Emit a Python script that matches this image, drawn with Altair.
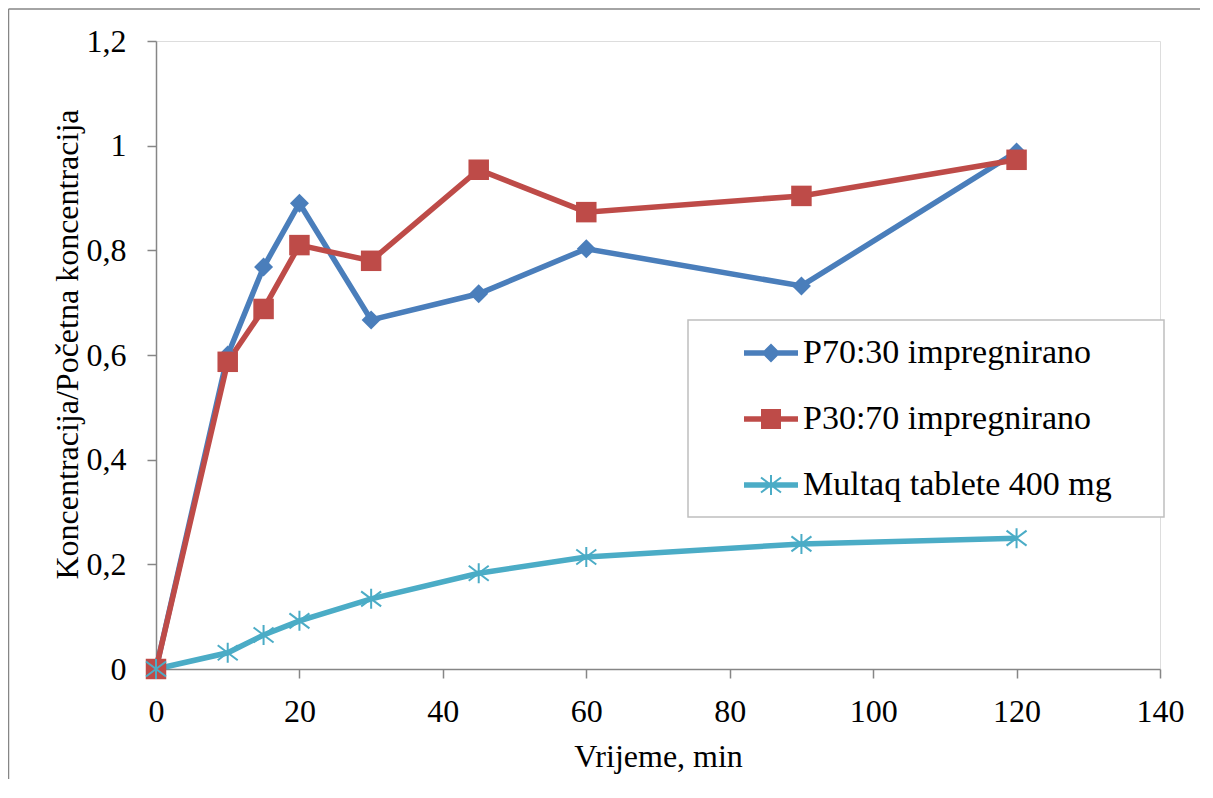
import altair as alt
import pandas as pd

times = [0, 10, 15, 20, 30, 45, 60, 90, 120]
p7030 = [0, 0.600, 0.768, 0.890, 0.667, 0.717, 0.803, 0.732, 0.988]
p3070 = [0, 0.587, 0.688, 0.810, 0.780, 0.954, 0.873, 0.904, 0.973]
multaq = [0, 0.031, 0.065, 0.092, 0.134, 0.183, 0.214, 0.239, 0.250]

series_names = ["P70:30 impregnirano", "P30:70 impregnirano", "Multaq tablete 400 mg"]
colors = ["#4A7EBB", "#BE4B48", "#4BACC6"]
x_ticks = [0, 20, 40, 60, 80, 100, 120, 140]
y_ticks = [0, 0.2, 0.4, 0.6, 0.8, 1.0, 1.2]

rows = []
for name, vals in zip(series_names, [p7030, p3070, multaq]):
    for t, v in zip(times, vals):
        rows.append({"series": name, "t": t, "v": v})
df = pd.DataFrame(rows)

FONT = "Liberation Serif"
FS = 32
GRAY = "#868686"

ASTERISK = "M0,-1L0,1M-1,-0.75L1,0.75M-1,0.75L1,-0.75"

# legend symbols: line segment + marker, all filled sub-paths (same winding)
LEG_D = "M-1,-0.1H1V0.1H-1Z M-0.35,0L0,-0.35L0.35,0L0,0.35Z"
LEG_S = "M-1,-0.1H1V0.1H-1Z M-0.37,-0.37H0.37V0.37H-0.37Z"
LEG_A = ("M-1,-0.1H1V0.1H-1Z "
         "M-0.037,-0.37H0.037V0.37H-0.037Z "
         "M-0.392,-0.25L-0.348,-0.31L0.392,0.25L0.348,0.31Z "
         "M-0.392,0.25L0.348,-0.31L0.392,-0.25L-0.348,0.31Z")

legend = alt.Legend(
    title=None,
    orient="none",
    legendX=588,
    legendY=285,
    padding=0,
    symbolSize=2916,
    symbolStrokeWidth=0,
    symbolOpacity=1,
    labelFont=FONT,
    labelFontSize=34,
    labelColor="black",
    labelOffset=5,
    labelLimit=0,
    rowPadding=22,
)

color_scale = alt.Scale(domain=series_names, range=colors)
legend_shape_scale = alt.Scale(domain=series_names, range=[LEG_D, LEG_S, LEG_A])

x_enc = alt.X(
    "t:Q",
    scale=alt.Scale(domain=[0, 140], nice=False),
    axis=alt.Axis(
        values=x_ticks,
        grid=False,
        tickSize=9,
        tickColor=GRAY,
        tickWidth=1.5,
        domainColor=GRAY,
        domainWidth=1.5,
        labelFont=FONT,
        labelFontSize=FS,
        labelColor="black",
        labelPadding=43,
        labelBaseline="alphabetic",
        labelFlush=False,
        labelOverlap=False,
        title="Vrijeme, min",
        titleFont=FONT,
        titleFontSize=FS,
        titleFontWeight="normal",
        titleColor="black",
        titleY=97,
        titleBaseline="alphabetic",
    ),
)
y_enc = alt.Y(
    "v:Q",
    scale=alt.Scale(domain=[0, 1.2], nice=False),
    axis=alt.Axis(
        values=y_ticks,
        grid=False,
        tickSize=9,
        tickColor=GRAY,
        tickWidth=1.5,
        domainColor=GRAY,
        domainWidth=1.5,
        labelFont=FONT,
        labelFontSize=FS,
        labelColor="black",
        labelPadding=21,
        labelFlush=False,
        labelOverlap=False,
        labelExpr="replace(format(datum.value, '.1~f'), '.', ',')",
        title="Koncentracija/Početna koncentracija",
        titleFont=FONT,
        titleFontSize=FS,
        titleFontWeight="normal",
        titleColor="black",
        titleX=-79,
        titleY=303,
        titleAngle=270,
        titleAlign="center",
        titleBaseline="alphabetic",
    ),
)

base = alt.Chart(df).encode(x=x_enc, y=y_enc)
stroke_enc = alt.Stroke("series:N", scale=color_scale, legend=None)
fill_enc = alt.Fill("series:N", scale=color_scale, legend=None)


def only(name):
    return alt.FieldEqualPredicate(field="series", equal=name)


lines = base.mark_line(strokeWidth=5.5).encode(stroke=stroke_enc, detail="series:N")

pts_d = base.transform_filter(only(series_names[0])).mark_point(
    shape="diamond", filled=True, opacity=1, strokeWidth=0, size=361
).encode(fill=fill_enc)

pts_s = base.transform_filter(only(series_names[1])).mark_point(
    shape="square", filled=True, opacity=1, strokeWidth=0, size=420
).encode(fill=fill_enc)

pts_a = base.transform_filter(only(series_names[2])).mark_point(
    shape=ASTERISK, filled=False, opacity=1, strokeWidth=2, size=400
).encode(stroke=stroke_enc)

legend_layer = base.transform_filter("false").mark_point(
    filled=True, opacity=1, strokeWidth=0
).encode(
    color=alt.Color("series:N", scale=color_scale, legend=legend),
    shape=alt.Shape("series:N", scale=legend_shape_scale, legend=legend),
)

one = pd.DataFrame({"k": [0]})
border_v = alt.Chart(one).mark_rule(color=GRAY, strokeWidth=1.5).encode(
    x=alt.value(-147.5), y=alt.value(-32), y2=alt.value(800)
)
border_h = alt.Chart(one).mark_rule(color=GRAY, strokeWidth=1.5).encode(
    x=alt.value(-147.5), x2=alt.value(1100), y=alt.value(-32)
)
legend_box = alt.Chart(one).mark_rect(fill="white", stroke="#BFBFBF", strokeWidth=1.5).encode(
    x=alt.value(532), x2=alt.value(1008), y=alt.value(279), y2=alt.value(476)
)

chart = alt.layer(
    legend_layer, border_v, border_h, legend_box, lines, pts_d, pts_s, pts_a
).properties(
    width=1004,
    height=628,
    autosize=alt.AutoSizeParams(type="none"),
    padding={"left": 148, "top": 33, "right": 40, "bottom": 110},
).configure_view(stroke=None).configure(background="white")

chart.save("out.html", embed_options={"renderer": "svg", "actions": False})
